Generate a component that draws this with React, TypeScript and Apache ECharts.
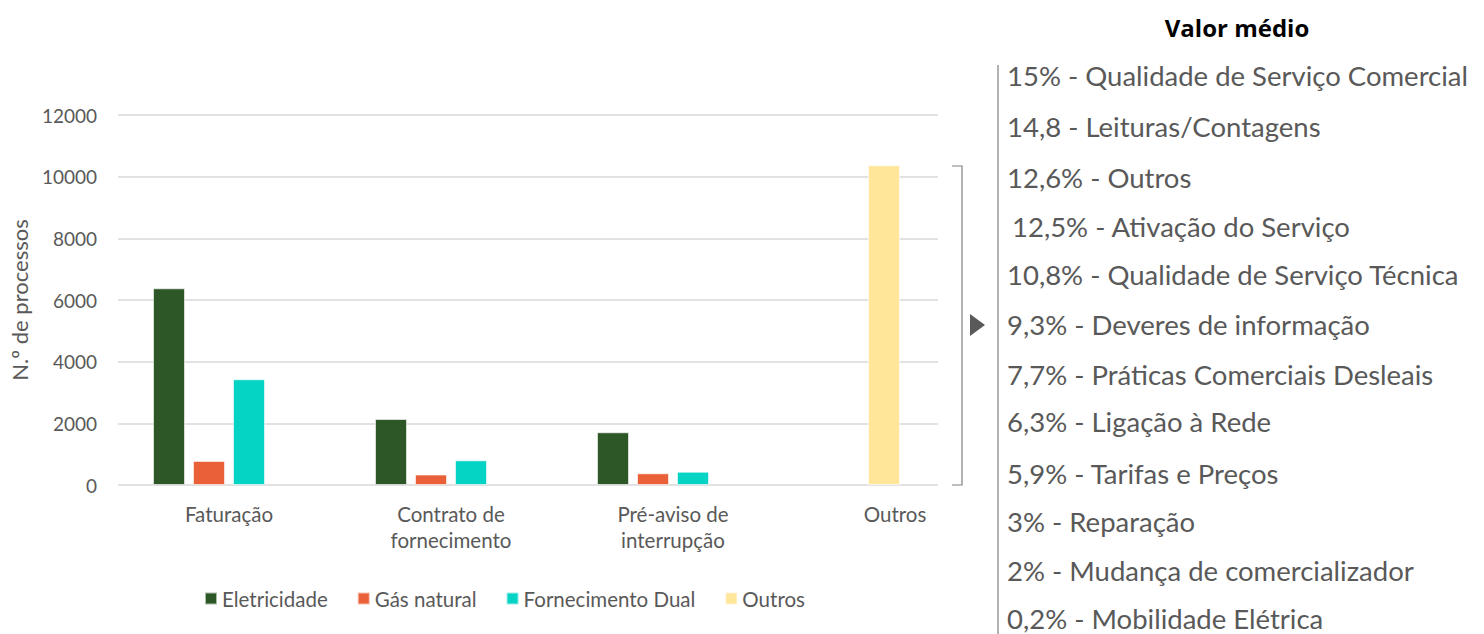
import React, { useEffect, useRef } from "react";
import * as echarts from "echarts";

const categories = ["Faturação", "Contrato de\nfornecimento", "Pré-aviso de\ninterrupção", "Outros"];
const eletricidade = [6380, 2140, 1710, null];
const gasNatural = [780, 340, 380, null];
const fornecimentoDual = [3430, 800, 430, null];
const outros = [null, null, null, 10370];
const seriesNames = ["Eletricidade", "Gás natural", "Fornecimento Dual", "Outros"];
const yMin = 0;
const yMax = 12000;
const yInterval = 2000;
const panelTitle = "Valor médio";
const valorMedio = [
  "15% - Qualidade de Serviço Comercial",
  "14,8 - Leituras/Contagens",
  "12,6% - Outros",
  "12,5% - Ativação do Serviço",
  "10,8% - Qualidade de Serviço Técnica",
  "9,3% - Deveres de informação",
  "7,7% - Práticas Comerciais Desleais",
  "6,3% - Ligação à Rede",
  "5,9% - Tarifas e Preços",
  "3% - Reparação",
  "2% - Mudança de comercializador",
  "0,2% - Mobilidade Elétrica",
];
const valorY = [75, 126, 177, 226, 274, 324, 374, 421, 473, 521, 570, 618];
const valorX = [1007, 1007, 1007, 1012, 1007, 1007, 1007, 1007, 1007, 1007, 1007, 1007];

const COLORS = ["#2E5727", "#EA6038", "#05D3C4", "#FFE699"];
const FONT = "Lato";
const GRAY = "#595959";

export default function App() {
  const ref = useRef<HTMLDivElement>(null);
  useEffect(() => {
    if (!ref.current) return;
    const chart = echarts.init(ref.current, null, { renderer: "svg" });
    const top = 115;
    const bottom = 149;
    const hiddenY = (gridIndex: number) => ({
      type: "value",
      gridIndex,
      min: yMin,
      max: yMax,
      interval: yInterval,
      show: false,
      splitLine: { show: false },
    });
    const barBase = {
      type: "bar",
      barWidth: 32,
      barGap: "25%",
      itemStyle: { borderColor: "rgba(255,255,255,0.6)", borderWidth: 1 },
    };
    chart.setOption({
      animation: false,
      textStyle: { fontFamily: FONT },
      grid: [
        { left: 118, right: 546, top, bottom },
        { left: 118, width: 888, top, bottom },
        { left: 107, width: 888, top, bottom },
      ],
      xAxis: [
        { type: "value", gridIndex: 0, show: false, min: 0, max: 1, splitLine: { show: false } },
        {
          type: "category",
          gridIndex: 1,
          data: categories,
          axisLine: { show: false },
          axisTick: { show: false },
          axisLabel: {
            color: GRAY,
            fontSize: 20.5,
            fontFamily: FONT,
            margin: 16,
            lineHeight: 26,
            interval: 0,
          },
        },
        { type: "category", gridIndex: 2, data: categories, show: false },
      ],
      yAxis: [
        {
          type: "value",
          gridIndex: 0,
          min: yMin,
          max: yMax,
          interval: yInterval,
          name: "N.º de processos",
          nameLocation: "middle",
          nameGap: 86,
          nameTextStyle: { color: GRAY, fontSize: 22, fontFamily: FONT },
          axisLine: { show: false },
          axisTick: { show: false },
          axisLabel: { color: GRAY, fontSize: 19, fontFamily: FONT, margin: 21, formatter: (v: number) => String(v) },
          splitLine: { lineStyle: { color: "#D9D9D9", width: 1.5 } },
        },
        hiddenY(1),
        hiddenY(2),
      ],
      legend: {
        data: seriesNames,
        left: 199,
        top: 583,
        icon: "rect",
        itemWidth: 12,
        itemHeight: 12,
        itemGap: 29,
        textStyle: { color: GRAY, fontSize: 20.5, fontFamily: FONT },
      },
      series: [
        { ...barBase, name: seriesNames[0], xAxisIndex: 1, yAxisIndex: 1, data: eletricidade, itemStyle: { ...barBase.itemStyle, color: COLORS[0] } },
        { ...barBase, name: seriesNames[1], xAxisIndex: 1, yAxisIndex: 1, data: gasNatural, itemStyle: { ...barBase.itemStyle, color: COLORS[1] } },
        { ...barBase, name: seriesNames[2], xAxisIndex: 1, yAxisIndex: 1, data: fornecimentoDual, itemStyle: { ...barBase.itemStyle, color: COLORS[2] } },
        { ...barBase, name: "_slot", xAxisIndex: 1, yAxisIndex: 1, data: [null, null, null, null], itemStyle: { color: COLORS[3] } },
        { ...barBase, name: seriesNames[3], xAxisIndex: 2, yAxisIndex: 2, data: outros, itemStyle: { ...barBase.itemStyle, color: COLORS[3] } },
      ],
      graphic: [
        {
          type: "text",
          x: 1237,
          y: 27,
          style: { text: panelTitle, font: `bold 24px "Open Sans"`, fill: "#000", align: "center", verticalAlign: "middle" },
        },
        { type: "line", shape: { x1: 998, y1: 65, x2: 998, y2: 634 }, style: { stroke: "#7F7F7F", lineWidth: 1.2 } },
        { type: "polyline", shape: { points: [[952, 166], [962, 166], [962, 485], [952, 485]] }, style: { stroke: "#7F7F7F", lineWidth: 1.2, fill: null } },
        { type: "polygon", shape: { points: [[970, 314], [985, 325], [970, 336]] }, style: { fill: GRAY } },
        ...valorMedio.map((t, i) => ({
          type: "text",
          x: valorX[i],
          y: valorY[i],
          style: { text: t, font: `27.5px ${FONT}`, fill: GRAY, align: "left", verticalAlign: "middle" },
        })),
      ],
    });
    return () => chart.dispose();
  }, []);
  return <div ref={ref} style={{ position: "fixed", left: 0, top: 0, width: 1484, height: 634, background: "#fff" }} />;
}
